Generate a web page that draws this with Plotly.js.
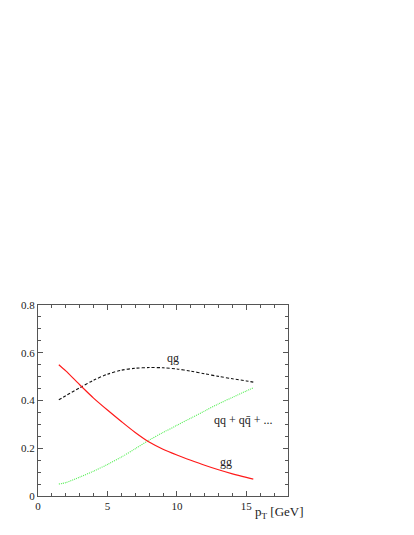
<!DOCTYPE html>
<html>
<head>
<meta charset="utf-8">
<script src="https://cdn.plot.ly/plotly-3.0.1.min.js"></script>
<style>
  html, body { margin: 0; padding: 0; background: #fff; }
  #chart { width: 414px; height: 535px; }
</style>
</head>
<body>
<div id="chart"></div>
<script>
// pT values [GeV] and subprocess fractions
const pt = [1.5, 2, 3, 4, 5, 6, 7, 8, 9, 10, 11, 12, 13, 14, 15, 15.5];
const gg = [0.55, 0.524, 0.466, 0.41, 0.36, 0.312, 0.266, 0.226, 0.196, 0.172, 0.15, 0.129, 0.11, 0.093, 0.078, 0.071];
const qg = [0.403, 0.42, 0.453, 0.485, 0.51, 0.527, 0.535, 0.538, 0.537, 0.532, 0.523, 0.512, 0.501, 0.491, 0.482, 0.477];
const qq = [0.05, 0.056, 0.079, 0.104, 0.132, 0.163, 0.198, 0.234, 0.266, 0.296, 0.326, 0.356, 0.386, 0.413, 0.44, 0.453];

const xTicks = [0, 5, 10, 15];
const yTicks = [0, 0.2, 0.4, 0.6, 0.8];

const serif = "'Liberation Serif', 'Times New Roman', serif";

function curve(y, color, dash, width) {
  return {
    type: "scatter",
    mode: "lines",
    x: pt,
    y: y,
    line: { color: color, dash: dash, width: width, shape: "spline", smoothing: 0.8 },
    hoverinfo: "skip"
  };
}

const axisCommon = {
  showgrid: false,
  zeroline: false,
  showline: true,
  linecolor: "#555",
  linewidth: 1,
  mirror: "allticks",
  ticks: "inside",
  ticklen: 5,
  tickcolor: "#555",
  tickfont: { family: serif, size: 11, color: "#222" },
  fixedrange: true
};

const labelFont = { family: serif, size: 12, color: "#222" };

Plotly.newPlot(
  "chart",
  [
    curve(qg, "#111", "3px,2px", 1.1),
    curve(qq, "#55ee55", "1px,1px", 1.1),
    curve(gg, "#ff1a1a", "solid", 1.2)
  ],
  {
    width: 414,
    height: 535,
    paper_bgcolor: "#fff",
    plot_bgcolor: "#fff",
    showlegend: false,
    margin: { l: 38, r: 126, t: 305, b: 39 },
    xaxis: {
      ...axisCommon,
      range: [0, 18],
      tickvals: xTicks,
      ticktext: xTicks.map(String),
      minor: { dtick: 1, ticks: "inside", ticklen: 3, tickcolor: "#555" }
    },
    yaxis: {
      ...axisCommon,
      range: [0, 0.8],
      tickvals: yTicks,
      ticktext: yTicks.map(v => v === 0 ? "0" : v.toFixed(1)),
      minor: { dtick: 0.05, ticks: "inside", ticklen: 3, tickcolor: "#555" }
    },
    annotations: [
      { x: 9.7, y: 0.578, text: "qg", showarrow: false, font: labelFont },
      { x: 14.8, y: 0.319, text: "qq + qq\u0304 + ...", showarrow: false, font: labelFont },
      { x: 13.5, y: 0.143, text: "gg", showarrow: false, font: labelFont },
      {
        x: 15.45, xref: "x", xanchor: "left",
        y: -0.03, yref: "paper", yanchor: "top",
        text: "p<sub>T</sub> [GeV]", showarrow: false,
        font: { family: serif, size: 13, color: "#222" }
      }
    ]
  },
  { displayModeBar: false, staticPlot: true }
);
</script>
</body>
</html>
